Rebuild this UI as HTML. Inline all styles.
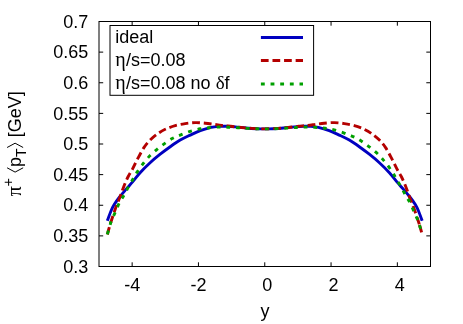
<!DOCTYPE html>
<html><head><meta charset="utf-8"><title>plot</title>
<style>
html,body{margin:0;padding:0;background:#fff;}
svg{display:block;will-change:transform;}
text{font-family:"Liberation Sans",sans-serif;font-size:18px;fill:#000;}
.sym{font-family:"Liberation Serif",serif;}
</style></head><body>
<svg width="463" height="324" viewBox="0 0 463 324">
<rect width="463" height="324" fill="#fff"/>
<g fill="none" stroke="#000" stroke-width="1">
<rect x="99.0" y="21.5" width="331.50" height="245.00"/>
<path d="M99.00,52.12h4.2 M430.50,52.12h-4.2"/>
<path d="M99.00,82.75h4.2 M430.50,82.75h-4.2"/>
<path d="M99.00,113.38h4.2 M430.50,113.38h-4.2"/>
<path d="M99.00,144.00h4.2 M430.50,144.00h-4.2"/>
<path d="M99.00,174.62h4.2 M430.50,174.62h-4.2"/>
<path d="M99.00,205.25h4.2 M430.50,205.25h-4.2"/>
<path d="M99.00,235.88h4.2 M430.50,235.88h-4.2"/>
<path d="M132.15,266.50v-4.2 M132.15,21.50v4.2"/>
<path d="M198.45,266.50v-4.2 M198.45,21.50v4.2"/>
<path d="M264.75,266.50v-4.2 M264.75,21.50v4.2"/>
<path d="M331.05,266.50v-4.2 M331.05,21.50v4.2"/>
<path d="M397.35,266.50v-4.2 M397.35,21.50v4.2"/>
</g>
<g fill="none" stroke-width="2.9" stroke-linejoin="round">
<path stroke="#0000c0" d="M107.30,220.80C107.92,219.17 109.85,213.70 111.00,211.00C112.15,208.30 112.77,206.93 114.20,204.60C115.63,202.27 117.63,199.53 119.60,197.00C121.57,194.47 123.83,191.92 126.00,189.40C128.17,186.88 130.25,184.68 132.60,181.90C134.95,179.12 137.18,175.90 140.10,172.70C143.02,169.50 146.75,165.78 150.10,162.70C153.45,159.62 156.85,156.87 160.20,154.20C163.55,151.53 166.87,149.05 170.20,146.70C173.53,144.35 176.87,142.03 180.20,140.10C183.53,138.17 186.85,136.68 190.20,135.10C193.55,133.52 196.82,131.90 200.30,130.60C203.78,129.30 208.03,128.02 211.10,127.30C214.17,126.58 216.17,126.47 218.70,126.30C221.23,126.13 223.53,126.20 226.30,126.30C229.07,126.40 232.03,126.62 235.30,126.90C238.57,127.18 242.37,127.70 245.90,128.00C249.43,128.30 253.36,128.55 256.50,128.70C259.64,128.85 262.00,128.90 264.75,128.90C267.50,128.90 269.86,128.85 273.00,128.70C276.14,128.55 280.07,128.30 283.60,128.00C287.13,127.70 290.93,127.18 294.20,126.90C297.47,126.62 300.43,126.40 303.20,126.30C305.97,126.20 308.27,126.13 310.80,126.30C313.33,126.47 315.33,126.58 318.40,127.30C321.47,128.02 325.72,129.30 329.20,130.60C332.68,131.90 335.95,133.52 339.30,135.10C342.65,136.68 345.97,138.17 349.30,140.10C352.63,142.03 355.97,144.35 359.30,146.70C362.63,149.05 365.95,151.53 369.30,154.20C372.65,156.87 376.05,159.62 379.40,162.70C382.75,165.78 386.48,169.50 389.40,172.70C392.32,175.90 394.55,179.12 396.90,181.90C399.25,184.68 401.33,186.88 403.50,189.40C405.67,191.92 407.93,194.47 409.90,197.00C411.87,199.53 413.87,202.27 415.30,204.60C416.73,206.93 417.35,208.30 418.50,211.00C419.65,213.70 421.58,219.17 422.20,220.80"/>
<g stroke="#b40000" stroke-dasharray="7.735 3.868"><path d="M107.30,234.50C107.75,232.90 109.38,227.02 110.00,224.90C110.62,222.78 110.12,224.47 111.00,221.80C111.88,219.13 113.87,212.87 115.30,208.90C116.73,204.93 118.17,201.78 119.60,198.00C121.03,194.22 122.47,189.78 123.90,186.20C125.33,182.62 126.75,179.38 128.20,176.50C129.65,173.62 131.03,171.83 132.60,168.90C134.17,165.97 135.72,162.45 137.60,158.90C139.48,155.35 141.82,150.73 143.90,147.60C145.98,144.47 147.82,142.40 150.10,140.10C152.38,137.80 155.08,135.60 157.60,133.80C160.12,132.00 162.27,130.67 165.20,129.30C168.13,127.93 171.87,126.55 175.20,125.60C178.53,124.65 181.87,124.10 185.20,123.60C188.53,123.10 191.85,122.67 195.20,122.60C198.55,122.53 202.13,122.90 205.30,123.20C208.47,123.50 211.47,124.03 214.20,124.40C216.93,124.77 218.93,125.08 221.70,125.40C224.47,125.72 227.52,125.95 230.80,126.30C234.08,126.65 237.87,127.15 241.40,127.50C244.93,127.85 248.11,128.17 252.00,128.40C255.89,128.63 260.50,128.90 264.75,128.90C269.00,128.90 273.61,128.63 277.50,128.40C281.39,128.17 284.57,127.85 288.10,127.50C291.63,127.15 295.42,126.65 298.70,126.30C301.98,125.95 305.03,125.72 307.80,125.40C310.57,125.08 312.57,124.77 315.30,124.40C318.03,124.03 321.03,123.50 324.20,123.20C327.37,122.90 330.95,122.53 334.30,122.60C337.65,122.67 340.97,123.10 344.30,123.60C347.63,124.10 350.97,124.65 354.30,125.60C357.63,126.55 361.37,127.93 364.30,129.30C367.23,130.67 369.38,132.00 371.90,133.80C374.42,135.60 377.12,137.80 379.40,140.10C381.68,142.40 383.52,144.47 385.60,147.60C387.68,150.73 390.02,155.35 391.90,158.90C393.78,162.45 395.33,165.97 396.90,168.90C398.47,171.83 399.85,173.62 401.30,176.50C402.75,179.38 404.17,182.62 405.60,186.20C407.03,189.78 408.47,194.22 409.90,198.00C411.33,201.78 412.77,204.93 414.20,208.90C415.63,212.87 417.62,219.13 418.50,221.80C419.38,224.47 418.88,222.78 419.50,224.90"/><path d="M419.50,224.90C420.12,227.02 421.75,232.90 422.20,234.50"/></g>
<g stroke="#00a000" stroke-dasharray="3.868 5.802"><path stroke-dashoffset="-0.3" d="M107.30,234.50C107.75,232.95 109.32,227.48 110.00,225.20C110.68,222.92 110.52,222.98 111.40,220.80C112.28,218.62 113.93,215.17 115.30,212.10C116.67,209.03 118.23,205.08 119.60,202.40C120.97,199.72 122.07,198.50 123.50,196.00C124.93,193.50 126.52,190.40 128.20,187.40C129.88,184.40 132.03,180.67 133.60,178.00C135.17,175.33 135.88,173.95 137.60,171.40C139.32,168.85 141.82,165.33 143.90,162.70C145.98,160.07 147.82,157.90 150.10,155.60C152.38,153.30 155.08,150.98 157.60,148.90C160.12,146.82 162.68,144.87 165.20,143.10C167.72,141.33 170.20,139.63 172.70,138.30C175.20,136.97 177.28,136.27 180.20,135.10C183.12,133.93 186.85,132.35 190.20,131.30C193.55,130.25 197.18,129.38 200.30,128.80C203.42,128.22 205.83,128.10 208.90,127.80C211.97,127.50 215.52,127.10 218.70,127.00C221.88,126.90 224.80,127.07 228.00,127.20C231.20,127.33 234.67,127.60 237.90,127.80C241.13,128.00 244.17,128.23 247.40,128.40C250.63,128.57 254.41,128.72 257.30,128.80C260.19,128.88 262.27,128.90 264.75,128.90C267.23,128.90 269.31,128.88 272.20,128.80C275.09,128.72 278.87,128.57 282.10,128.40C285.33,128.23 288.37,128.00 291.60,127.80C294.83,127.60 298.30,127.33 301.50,127.20C304.70,127.07 307.62,126.90 310.80,127.00C313.98,127.10 317.53,127.50 320.60,127.80C323.67,128.10 326.08,128.22 329.20,128.80C332.32,129.38 335.95,130.25 339.30,131.30C342.65,132.35 346.38,133.93 349.30,135.10C352.22,136.27 354.30,136.97 356.80,138.30C359.30,139.63 361.78,141.33 364.30,143.10C366.82,144.87 369.38,146.82 371.90,148.90C374.42,150.98 377.12,153.30 379.40,155.60C381.68,157.90 383.52,160.07 385.60,162.70C387.68,165.33 390.18,168.85 391.90,171.40C393.62,173.95 394.33,175.33 395.90,178.00C397.47,180.67 399.62,184.40 401.30,187.40C402.98,190.40 404.57,193.50 406.00,196.00C407.43,198.50 408.53,199.72 409.90,202.40C411.27,205.08 412.83,209.03 414.20,212.10C415.57,215.17 417.22,218.62 418.10,220.80C418.98,222.98 418.82,222.92 419.50,225.20"/><path d="M419.50,225.20C420.18,227.48 421.75,232.95 422.20,234.50"/></g>
</g>
<rect x="110.0" y="25.5" width="203.6" height="69.8" fill="#fff" stroke="#000" stroke-width="1"/>
<g fill="none" stroke-width="3">
<path stroke="#0000c0" d="M260.9,37.4H303"/>
<path stroke="#b40000" stroke-dasharray="7.72 3.86" d="M260.9,60.4H303"/>
<path stroke="#00a000" stroke-dasharray="3.86 5.79" d="M260.9,84.0H303"/>
</g>
<text x="115.2" y="43.4">ideal</text>
<text x="115.2" y="66.0"><tspan class="sym" style="font-size:20px">η</tspan><tspan dx="0.4">/s=0.08</tspan></text>
<text x="115.2" y="89.0"><tspan class="sym" style="font-size:20px">η</tspan><tspan dx="0.4">/s=0.08 no </tspan><tspan class="sym" style="font-size:19px">δ</tspan>f</text>
<text x="88.3" y="27.70" text-anchor="end">0.7</text>
<text x="88.3" y="58.33" text-anchor="end">0.65</text>
<text x="88.3" y="88.95" text-anchor="end">0.6</text>
<text x="88.3" y="119.58" text-anchor="end">0.55</text>
<text x="88.3" y="150.20" text-anchor="end">0.5</text>
<text x="88.3" y="180.82" text-anchor="end">0.45</text>
<text x="88.3" y="211.45" text-anchor="end">0.4</text>
<text x="88.3" y="242.07" text-anchor="end">0.35</text>
<text x="88.3" y="272.70" text-anchor="end">0.3</text>
<text x="132.15" y="290.8" text-anchor="middle">-4</text>
<text x="198.45" y="290.8" text-anchor="middle">-2</text>
<text x="267.25" y="290.8" text-anchor="middle">0</text>
<text x="333.55" y="290.8" text-anchor="middle">2</text>
<text x="399.85" y="290.8" text-anchor="middle">4</text>
<text x="264.9" y="317.3" text-anchor="middle">y</text>
<g transform="translate(21,196.2) rotate(-90)">
<text x="0" y="0" class="sym" style="font-size:20px">π</text>
<text x="9.8" y="-7.66" style="font-size:14.4px">+</text>
<path d="M28.4,-13.9L24.1,-5.9L28.4,2.15" fill="none" stroke="#000" stroke-width="1"/>
<text x="29.21" y="0">p</text>
<text x="39.3" y="4.8" style="font-size:14px">T</text>
<path d="M48.7,-13.9L53.0,-5.9L48.7,2.15" fill="none" stroke="#000" stroke-width="1"/>
<text x="58.93" y="0">[GeV]</text>
</g>
</svg>
</body></html>
